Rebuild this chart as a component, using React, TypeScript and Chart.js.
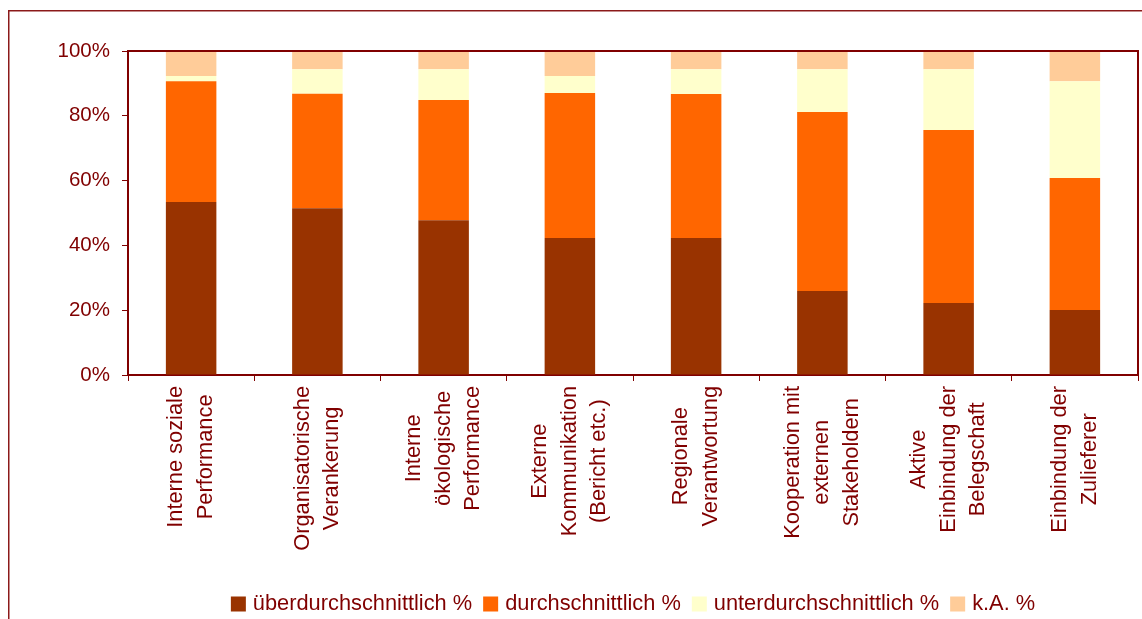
import React, { useEffect, useRef } from "react";
import { Chart, registerables } from "chart.js";

Chart.register(...registerables);

const categories: string[][] = [
  ["Interne soziale", "Performance"],
  ["Organisatorische", "Verankerung"],
  ["Interne", "ökologische", "Performance"],
  ["Externe", "Kommunikation", "(Bericht etc.)"],
  ["Regionale", "Verantwortung"],
  ["Kooperation mit", "externen", "Stakeholdern"],
  ["Aktive", "Einbindung der", "Belegschaft"],
  ["Einbindung der", "Zulieferer"],
];

const ueberdurchschnittlich = [53.4, 51.5, 47.8, 42.3, 42.3, 25.9, 22.2, 20.1];
const durchschnittlich = [37.3, 35.3, 37.1, 44.7, 44.4, 55.3, 53.4, 40.7];
const unterdurchschnittlich = [1.6, 7.6, 9.5, 5.3, 7.7, 13.2, 18.8, 29.9];
const keineAngabe = [7.7, 5.6, 5.6, 7.7, 5.6, 5.6, 5.6, 9.3];

const seriesLabels = [
  "überdurchschnittlich %",
  "durchschnittlich %",
  "unterdurchschnittlich %",
  "k.A. %",
];
const yTicks = [0, 20, 40, 60, 80, 100];

const TEXT = "#800000";
const LINE = "#800000";
const FONT = "'Liberation Sans', Arial, sans-serif";

const decorPlugin = {
  id: "decor",
  afterDraw(chart: any) {
    const ctx = chart.ctx as CanvasRenderingContext2D;
    const area = chart.chartArea;
    const xScale = chart.scales.x;
    ctx.save();

    // outer frame
    ctx.strokeStyle = "#8B1A1A";
    ctx.lineWidth = 1.5;
    ctx.beginPath();
    ctx.moveTo(8.75, 640);
    ctx.lineTo(8.75, 10.75);
    ctx.lineTo(1160, 10.75);
    ctx.stroke();

    // plot area top & right border
    ctx.strokeStyle = LINE;
    ctx.lineWidth = 2;
    ctx.beginPath();
    ctx.moveTo(area.left, area.top);
    ctx.lineTo(area.right, area.top);
    ctx.lineTo(area.right, area.bottom);
    ctx.stroke();

    // category labels (rotated, centered lines)
    ctx.fillStyle = TEXT;
    ctx.font = `21.8px ${FONT}`;
    const lineH = 29.5;
    const labels: string[][] = chart.data.labels;
    labels.forEach((lines, i) => {
      const x = xScale.getPixelForValue(i);
      const widths = lines.map((l) => ctx.measureText(l).width);
      const W = Math.max(...widths);
      ctx.save();
      ctx.translate(x, area.bottom + 11);
      ctx.rotate(-Math.PI / 2);
      ctx.textAlign = "center";
      ctx.textBaseline = "middle";
      lines.forEach((l, j) => {
        const off = (j - (lines.length - 1) / 2) * lineH;
        ctx.fillText(l, -W / 2, off);
      });
      ctx.restore();
    });

    // legend
    ctx.font = `21.8px ${FONT}`;
    ctx.textAlign = "left";
    ctx.textBaseline = "middle";
    const box = 15;
    const boxGap = 7;
    const itemGap = 11;
    const ds = chart.data.datasets;
    const widths = ds.map((d: any) => ctx.measureText(d.label).width);
    const total =
      widths.reduce((a: number, b: number) => a + b + box + boxGap, 0) +
      itemGap * (ds.length - 1);
    let lx = (area.left + area.right) / 2 - total / 2;
    const ly = 604;
    ds.forEach((d: any, i: number) => {
      ctx.fillStyle = d.backgroundColor;
      ctx.fillRect(lx, ly - box / 2, box, box);
      lx += box + boxGap;
      ctx.fillStyle = TEXT;
      ctx.fillText(d.label, lx, ly);
      lx += widths[i] + itemGap;
    });

    ctx.restore();
  },
};

export default function App() {
  const ref = useRef<HTMLCanvasElement | null>(null);

  useEffect(() => {
    if (!ref.current) return;
    const colors = ["#993300", "#FF6600", "#FFFFCC", "#FFCC99"];
    const values = [ueberdurchschnittlich, durchschnittlich, unterdurchschnittlich, keineAngabe];
    const chart = new Chart(ref.current, {
      type: "bar",
      data: {
        labels: categories as any,
        datasets: values.map((v, i) => ({
          label: seriesLabels[i],
          data: v,
          backgroundColor: colors[i],
          borderWidth: 0,
          barPercentage: 0.4,
          categoryPercentage: 1,
        })),
      },
      options: {
        responsive: false,
        animation: false,
        devicePixelRatio: 1,
        layout: { padding: { left: 0, top: 51, right: 4, bottom: 0 } },
        plugins: {
          legend: { display: false },
          tooltip: { enabled: false },
          title: { display: false },
        },
        scales: {
          x: {
            stacked: true,
            offset: true,
            grid: {
              offset: true,
              drawOnChartArea: false,
              drawTicks: true,
              tickLength: 6,
              color: LINE,
              lineWidth: 1,
            },
            border: { display: true, color: LINE, width: 2 },
            ticks: { display: false },
            afterFit: (scale: any) => {
              scale.height = 619 - 375;
            },
          },
          y: {
            stacked: true,
            min: 0,
            max: 100,
            afterBuildTicks: (scale: any) => {
              scale.ticks = yTicks.map((v) => ({ value: v }));
            },
            grid: {
              drawOnChartArea: false,
              drawTicks: true,
              tickLength: 6,
              color: LINE,
              lineWidth: 1,
            },
            border: { display: true, color: LINE, width: 2 },
            ticks: {
              color: TEXT,
              padding: 12,
              font: { family: FONT, size: 20.5 },
              callback: (v: any) => `${v}%`,
            },
            afterFit: (scale: any) => {
              scale.width = 128;
            },
          },
        },
      },
      plugins: [decorPlugin],
    });
    return () => chart.destroy();
  }, []);

  return (
    <div style={{ position: "fixed", left: 0, top: 0, width: 1142, height: 619, background: "#fff" }}>
      <canvas ref={ref} width={1142} height={619} style={{ display: "block" }} />
    </div>
  );
}
